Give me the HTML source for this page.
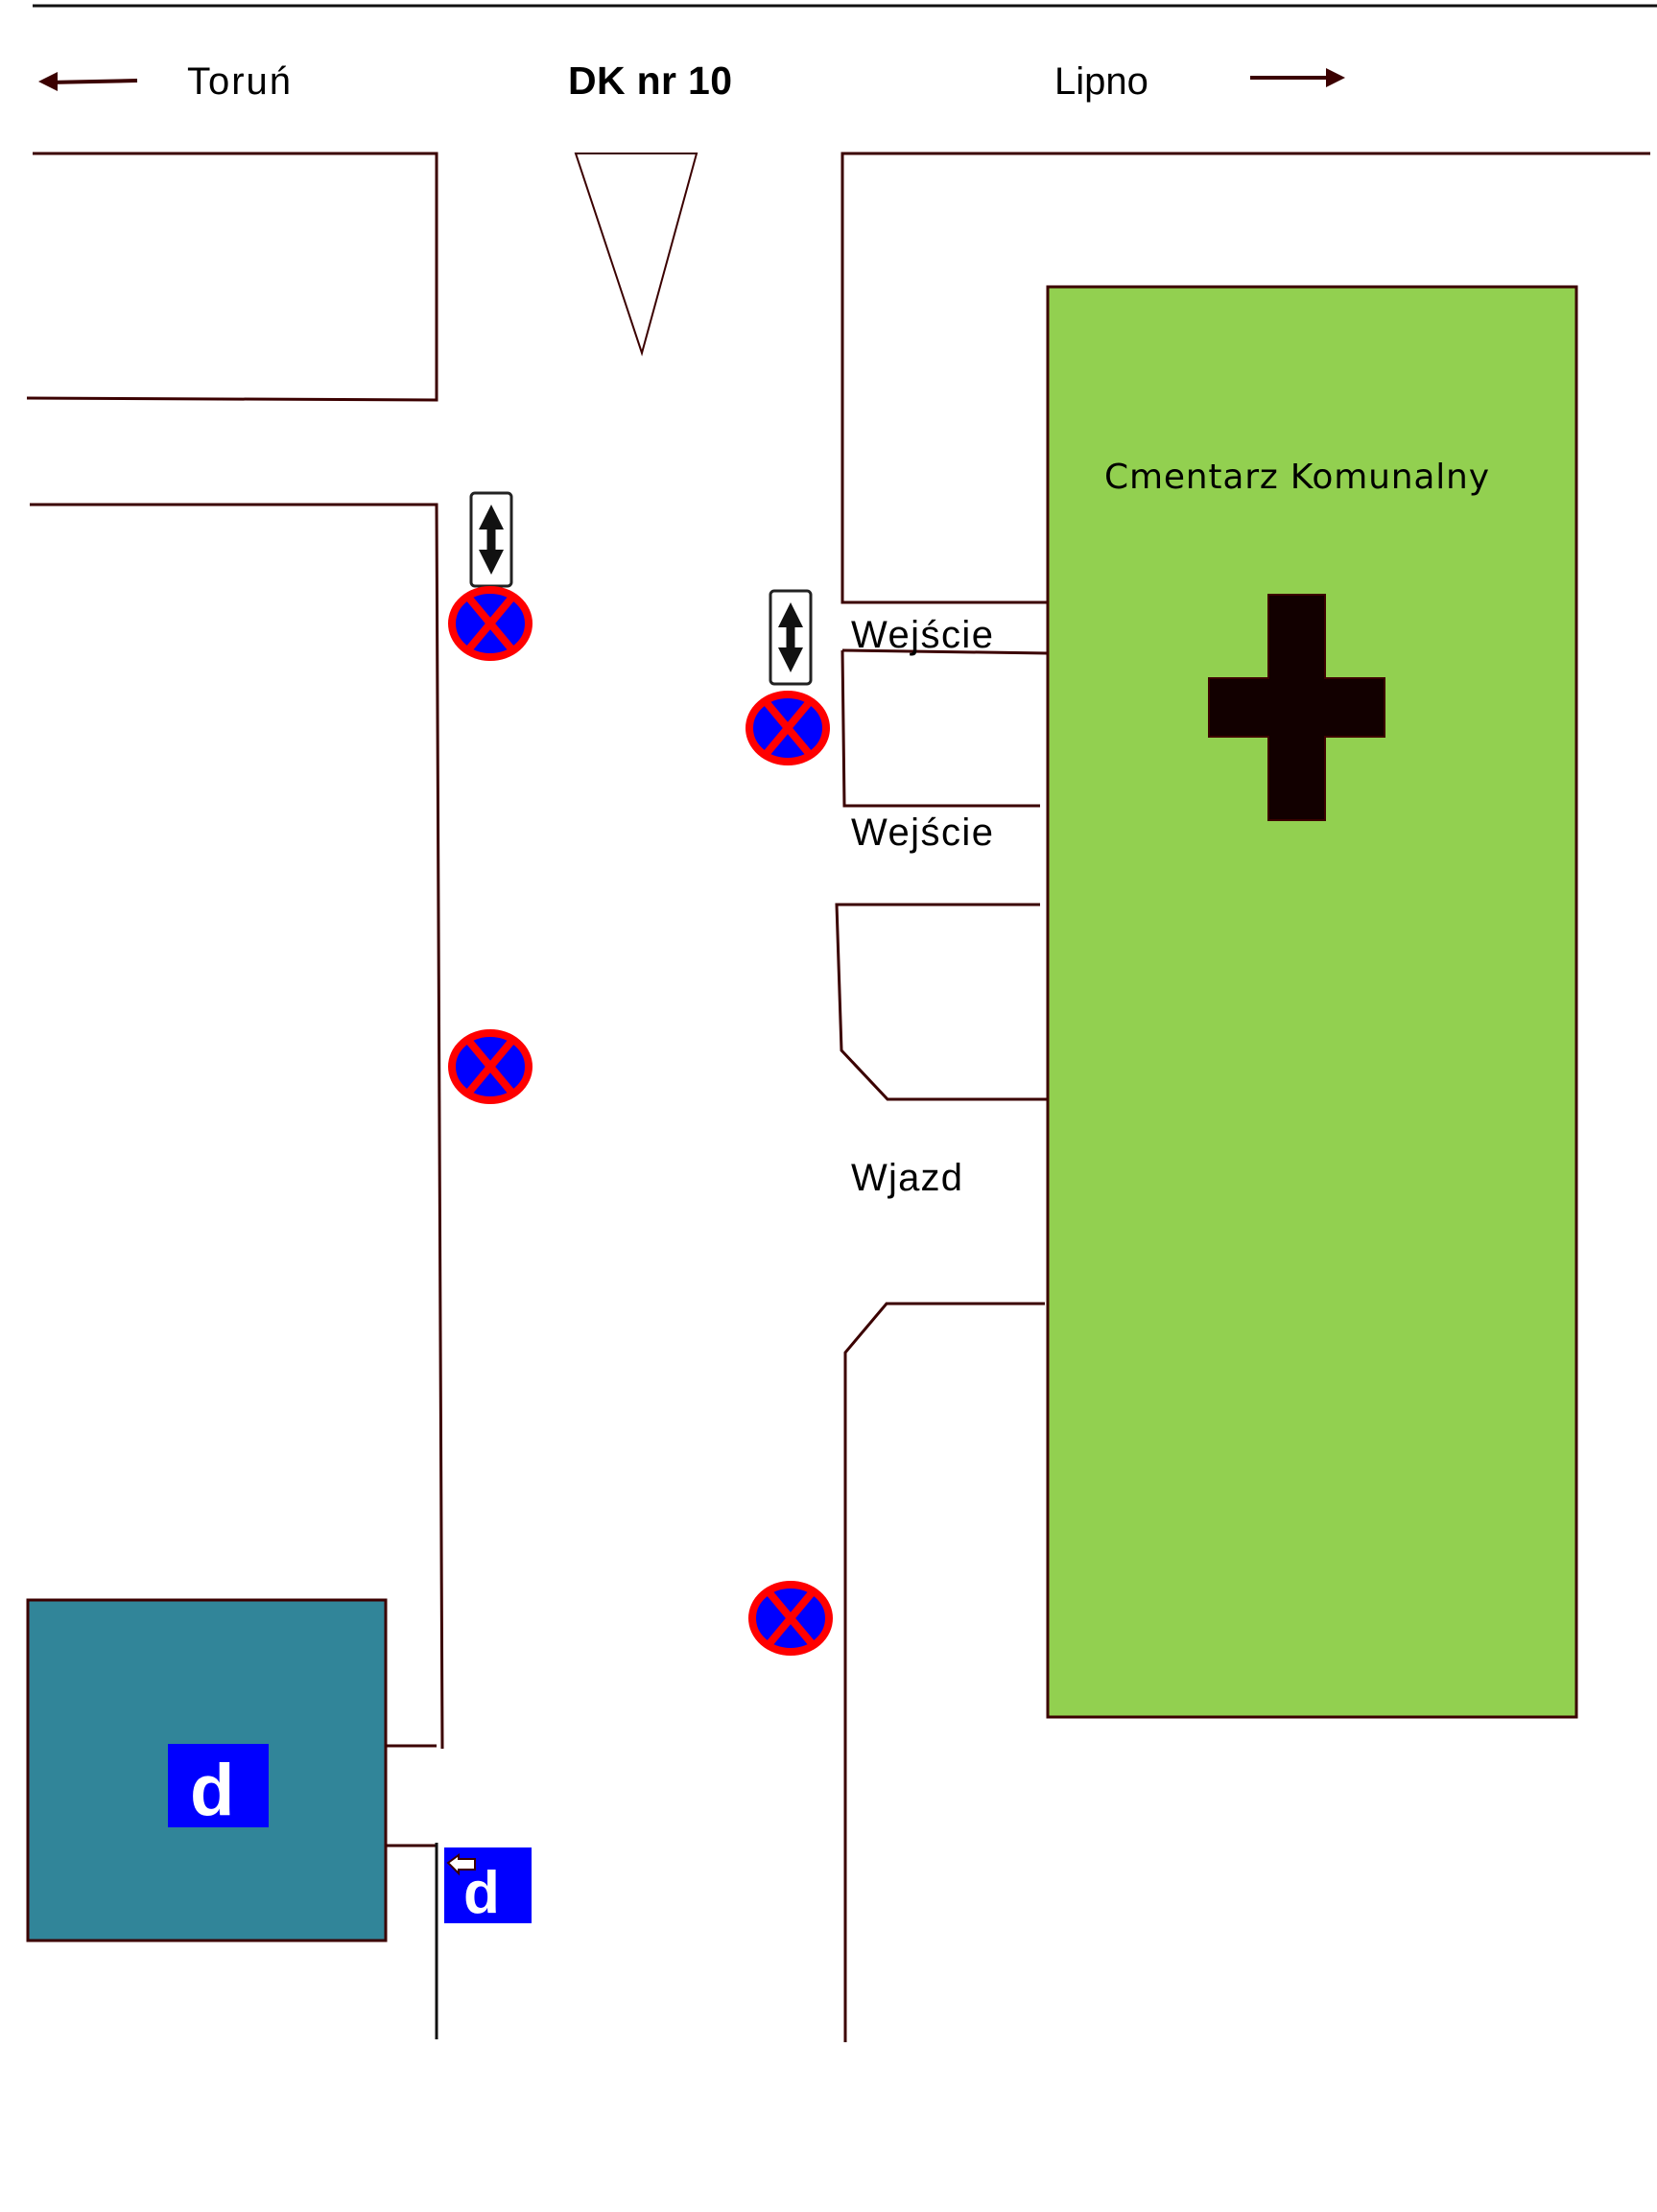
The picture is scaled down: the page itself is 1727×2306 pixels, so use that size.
<!DOCTYPE html>
<html><head><meta charset="utf-8"><style>
html,body{margin:0;padding:0;background:#fff;width:1727px;height:2306px;overflow:hidden}
svg{display:block}
text{font-family:"Liberation Sans",sans-serif;fill:#000}
</style></head><body>
<svg width="1727" height="2306" viewBox="0 0 1727 2306" xmlns="http://www.w3.org/2000/svg">
<defs>
<g id="ns">
<ellipse cx="0" cy="0" rx="40" ry="35" fill="#0000ff" stroke="#ff0000" stroke-width="8"/>
<line x1="-25" y1="-30" x2="25" y2="30" stroke="#ff0000" stroke-width="8"/>
<line x1="25" y1="-30" x2="-25" y2="30" stroke="#ff0000" stroke-width="8"/>
</g>
<g id="ar">
<rect x="0" y="0" width="42" height="97" rx="4" fill="#fff" stroke="#222" stroke-width="3"/>
<line x1="21" y1="25" x2="21" y2="72" stroke="#111" stroke-width="9"/>
<polygon points="21,12 8,38 34,38" fill="#111"/>
<polygon points="21,85 8,59 34,59" fill="#111"/>
</g>
</defs>
<g stroke="#3b0000" stroke-width="3" fill="none">
<line x1="34" y1="6" x2="1727" y2="6" stroke="#111" stroke-width="3"/>
<line x1="50" y1="86" x2="143" y2="84" stroke-width="4"/>
<line x1="1303" y1="81" x2="1390" y2="81" stroke-width="4"/>
<polyline points="34,160 455,160 455,417 28,415"/>
<polygon points="600,160 726,160 669,368" stroke-width="2"/>
<polyline points="1720,160 878,160 878,628 1092,628"/>
<polyline points="31,526 455,526 461,1823"/>
<line x1="878" y1="678" x2="1092" y2="681"/>
<polyline points="878,678 880,840 1084,840"/>
<polyline points="1084,943 872,943 877,1095 925,1146 1092,1146"/>
<polyline points="1089,1359 924,1359 881,1410 881,2129"/>
<line x1="402" y1="1820" x2="455" y2="1820"/>
<line x1="402" y1="1924" x2="455" y2="1924"/>
<line x1="455" y1="1921" x2="455" y2="2126" stroke="#111"/>
</g>
<polygon points="40,85 60,75 60,95" fill="#3b0000"/>
<polygon points="1402,81 1382,71 1382,91" fill="#3b0000"/>
<text x="195" y="98" font-size="40" textLength="108">Toruń</text>
<text x="592" y="98" font-size="41" font-weight="bold" textLength="171">DK nr 10</text>
<text x="1099" y="98" font-size="40">Lipno</text>
<rect x="1092" y="299" width="551" height="1491" fill="#92d050" stroke="#3b0000" stroke-width="3"/>
<text x="1151" y="509" font-size="36" textLength="401" style="font-family:'DejaVu Sans',sans-serif">Cmentarz Komunalny</text>
<path d="M1322,620 H1381 V707 H1443 V768 H1381 V855 H1322 V768 H1260 V707 H1322 Z" fill="#120000" stroke="#3b0000" stroke-width="2"/>
<text x="887" y="675" font-size="40" textLength="148">Wejście</text>
<text x="887" y="881" font-size="40" textLength="148">Wejście</text>
<text x="887" y="1241" font-size="40" textLength="116">Wjazd</text>
<rect x="29" y="1668" width="373" height="355" fill="#318599" stroke="#3b0000" stroke-width="3"/>
<rect x="175" y="1818" width="105" height="87" fill="#0000ff"/>
<text x="198" y="1892" font-size="76" font-weight="bold" style="fill:#fff">d</text>
<rect x="463" y="1926" width="91" height="79" fill="#0000ff"/>
<text x="483" y="1994" font-size="62" font-weight="bold" style="fill:#fff">d</text>
<polygon points="467,1942 478,1934 478,1938 495,1938 495,1949 478,1949 478,1953" fill="#fff" stroke="#3b0000" stroke-width="2"/>
<use href="#ar" x="491" y="514"/>
<use href="#ar" x="803" y="616"/>
<use href="#ns" x="511" y="650"/>
<use href="#ns" x="821" y="759"/>
<use href="#ns" x="511" y="1112"/>
<use href="#ns" x="824" y="1687"/>
</svg>
</body></html>
